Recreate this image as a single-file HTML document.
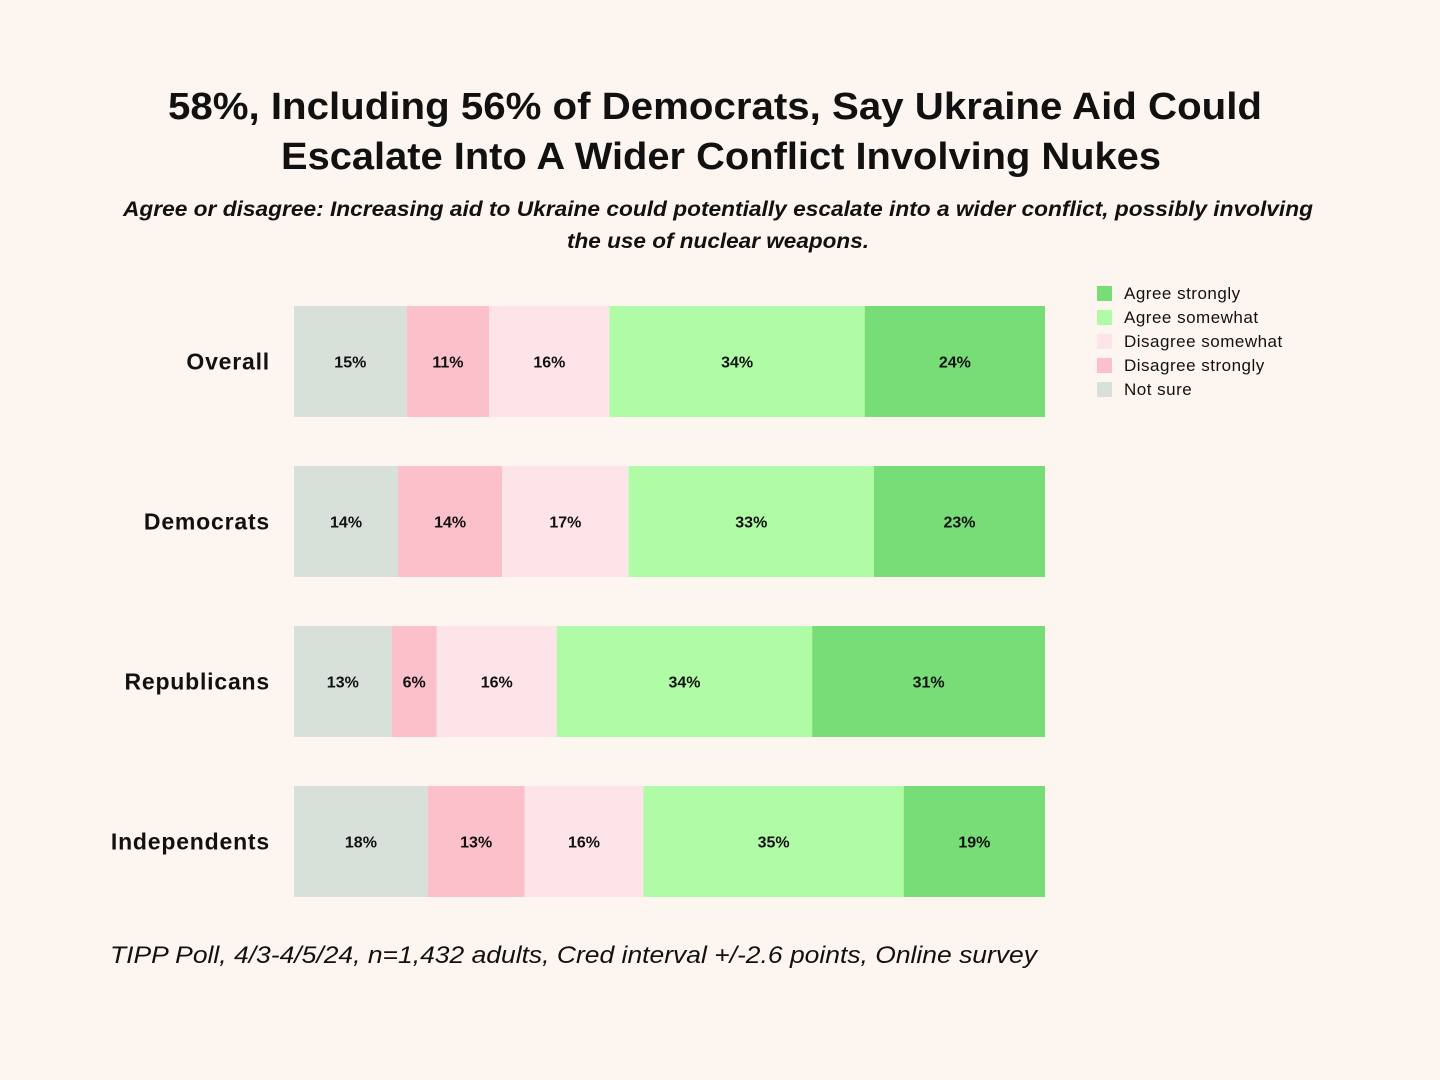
<!DOCTYPE html>
<html><head><meta charset="utf-8"><style>
body{margin:0;background:#fdf6f0;font-family:"Liberation Sans",sans-serif;overflow:hidden;}
</style></head><body>
<svg id="chart" width="1440" height="1080" xmlns="http://www.w3.org/2000/svg" style="display:block">
<rect width="1440" height="1080" fill="#fdf6f0"/>
<text x="168" y="119" textLength="1094" lengthAdjust="spacingAndGlyphs" font-size="38" font-weight="bold" fill="#111">58%, Including 56% of Democrats, Say Ukraine Aid Could</text>
<text x="281" y="169" textLength="880" lengthAdjust="spacingAndGlyphs" font-size="38" font-weight="bold" fill="#111">Escalate Into A Wider Conflict Involving Nukes</text>
<text x="123" y="216" textLength="1190" lengthAdjust="spacingAndGlyphs" font-size="21" font-style="italic" font-weight="bold" fill="#111">Agree or disagree:  Increasing aid to Ukraine could potentially escalate into a wider conflict, possibly involving</text>
<text x="567" y="248" textLength="302" lengthAdjust="spacingAndGlyphs" font-size="21" font-style="italic" font-weight="bold" fill="#111">the use of nuclear weapons.</text>
<text x="110" y="963" textLength="927" lengthAdjust="spacingAndGlyphs" font-size="24" font-style="italic" fill="#111">TIPP Poll, 4/3-4/5/24, n=1,432 adults, Cred interval +/-2.6 points, Online survey</text>
<g id="bars"></g>
<g id="legend"></g>
</svg>
<script>
const categories = ["Overall","Democrats","Republicans","Independents"];
const seriesNames = ["Not sure","Disagree strongly","Disagree somewhat","Agree somewhat","Agree strongly"];
const notSure = [15,14,13,18];
const disagreeStrongly = [11,14,6,13];
const disagreeSomewhat = [16,17,16,16];
const agreeSomewhat = [34,33,34,35];
const agreeStrongly = [24,23,31,19];
const colors = ["#d8e0da","#fcc0cb","#fde4e9","#b0fca6","#77dd77"];
const series = [notSure,disagreeStrongly,disagreeSomewhat,agreeSomewhat,agreeStrongly];
const NS="http://www.w3.org/2000/svg";
const x0=294,x1=1045,yTop=306,step=160,bh=111;
const xScale=(v,tot)=>(v/tot)*(x1-x0);
const yPos=i=>yTop+i*step;
const g=document.getElementById('bars');
categories.forEach((c,i)=>{
  const tot=series.reduce((s,a)=>s+a[i],0);
  const y=yPos(i);
  const lab=document.createElementNS(NS,'text');
  lab.setAttribute('x',270);lab.setAttribute('y',y+bh/2+8);lab.setAttribute('text-anchor','end');
  lab.setAttribute('font-size','23');lab.setAttribute('font-weight','bold');lab.setAttribute('fill','#111');
  lab.setAttribute('letter-spacing','0.8');
  lab.textContent=c;
  
  
  g.appendChild(lab);
  let cx=x0;
  series.forEach((s,k)=>{
    const w=xScale(s[i],tot);
    const r=document.createElementNS(NS,'rect');
    r.setAttribute('x',cx);r.setAttribute('y',y);r.setAttribute('width',w);r.setAttribute('height',bh);r.setAttribute('fill',colors[k]);
    
    
    g.appendChild(r);
    const t=document.createElementNS(NS,'text');
    t.setAttribute('x',cx+w/2);t.setAttribute('y',y+bh/2+6);t.setAttribute('text-anchor','middle');
    t.setAttribute('font-size','16');t.setAttribute('font-weight','bold');t.setAttribute('fill','#111');
    t.textContent=s[i]+'%';
    
    
    g.appendChild(t);
    cx+=w;
  });
});
const lg=document.getElementById('legend');
for(let j=0;j<5;j++){
  const k=4-j;const y=286+j*24;
  const r=document.createElementNS(NS,'rect');
  r.setAttribute('x',1097);r.setAttribute('y',y);r.setAttribute('width',15);r.setAttribute('height',15);r.setAttribute('fill',colors[k]);
  
  
  lg.appendChild(r);
  const t=document.createElementNS(NS,'text');
  t.setAttribute('x',1124);t.setAttribute('y',y+13);t.setAttribute('font-size','17');t.setAttribute('fill','#111');
  t.setAttribute('letter-spacing','0.5');
  t.textContent=seriesNames[k];
  
  
  lg.appendChild(t);
}
</script>
</body></html>
